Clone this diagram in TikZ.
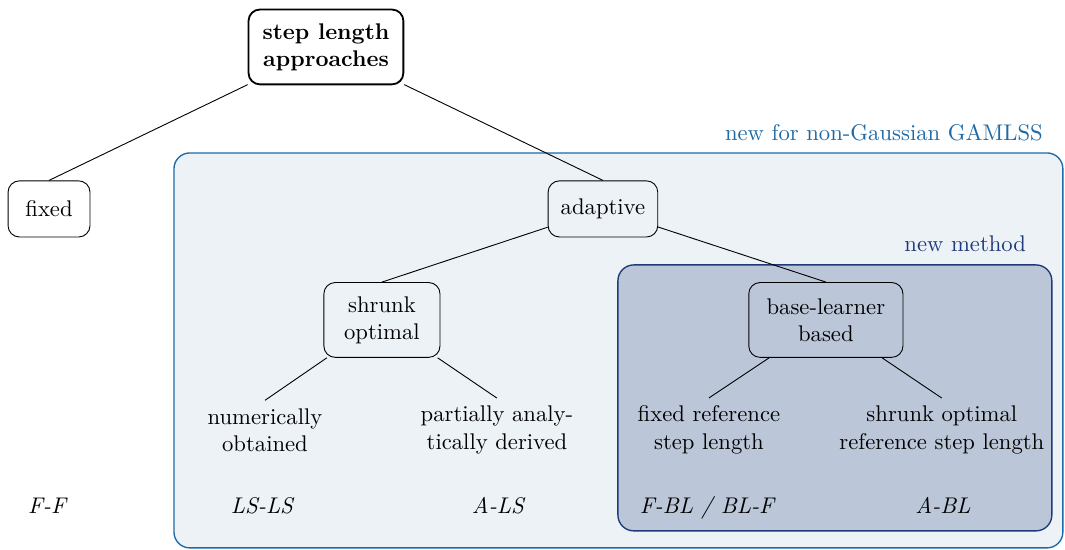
\documentclass[tikz,border=0pt]{standalone}
\usetikzlibrary{positioning}

\definecolor{gamlssblue}{HTML}{1F6AA5}
\definecolor{gamlssfill}{HTML}{EDF2F7}
\definecolor{methodblue}{HTML}{1E3A7B}
\definecolor{methodfill}{HTML}{BBC7D8}

\tikzset{
  approach/.style={draw, rounded corners=5pt, align=center, inner sep=5pt, minimum height=0.87cm},
  leaf/.style={align=center},
  abbrev/.style={font=\itshape, anchor=base},
  outerbox/.style={draw=gamlssblue, fill=gamlssfill, rounded corners=7pt, semithick},
  innerbox/.style={draw=methodblue, fill=methodfill, rounded corners=7pt, semithick},
}

\begin{document}
\begin{tikzpicture}
\useasboundingbox (0,0) rectangle (16.51,8.525);

% shaded areas
\draw[outerbox] (2.697,0.031) rectangle (16.477,6.154);
\node[gamlssblue, anchor=east] (gamlss) at (16.29,6.464) {new for non-Gaussian GAMLSS};
\draw[innerbox] (9.579,0.295) rectangle (16.306,4.418);
\node[methodblue, anchor=east] (newmethod) at (16.03,4.743) {new method};

% tree
\node[approach, thick, minimum width=2.4cm, minimum height=1.16cm] (root) at (5.053,7.797) {\bfseries step length\\\bfseries approaches};
\node[approach, minimum width=1.27cm] (fixed) at (0.760,5.286) {fixed};
\node[approach, minimum width=1.7cm] (adaptive) at (9.347,5.286) {adaptive};
\node[approach, minimum width=1.8cm, minimum height=1.16cm] (shrunk) at (5.921,3.565) {shrunk\\optimal};
\node[approach, minimum width=2.39cm, minimum height=1.16cm] (base) at (12.803,3.565) {base-learner\\based};

\node[leaf] (numeric) at (4.108,1.86) {numerically\\obtained};
\node[leaf] (partial) at (7.704,1.86) {partially analy-\\tically derived};
\node[leaf] (fixedref) at (10.99,1.86) {fixed reference\\step length};
\node[leaf] (shrunkref) at (14.601,1.86) {shrunk optimal\\reference step length};

\draw (root) -- (fixed.north);
\draw (root) -- (adaptive.north);
\draw (adaptive) -- (shrunk.north);
\draw (adaptive) -- (base.north);
\draw (shrunk) -- (numeric.north);
\draw (shrunk) -- (partial.north);
\draw (base) -- (fixedref.north);
\draw (base) -- (shrunkref.north);

% abbreviations
\node[abbrev] (ff) at (0.729,0.56) {F-F};
\node[abbrev] (lsls) at (4.061,0.56) {LS-LS};
\node[abbrev] (als) at (7.719,0.56) {A-LS};
\node[abbrev] (fbl) at (10.959,0.56) {F-BL / BL-F};
\node[abbrev] (abl) at (14.617,0.56) {A-BL};
\end{tikzpicture}
\end{document}
